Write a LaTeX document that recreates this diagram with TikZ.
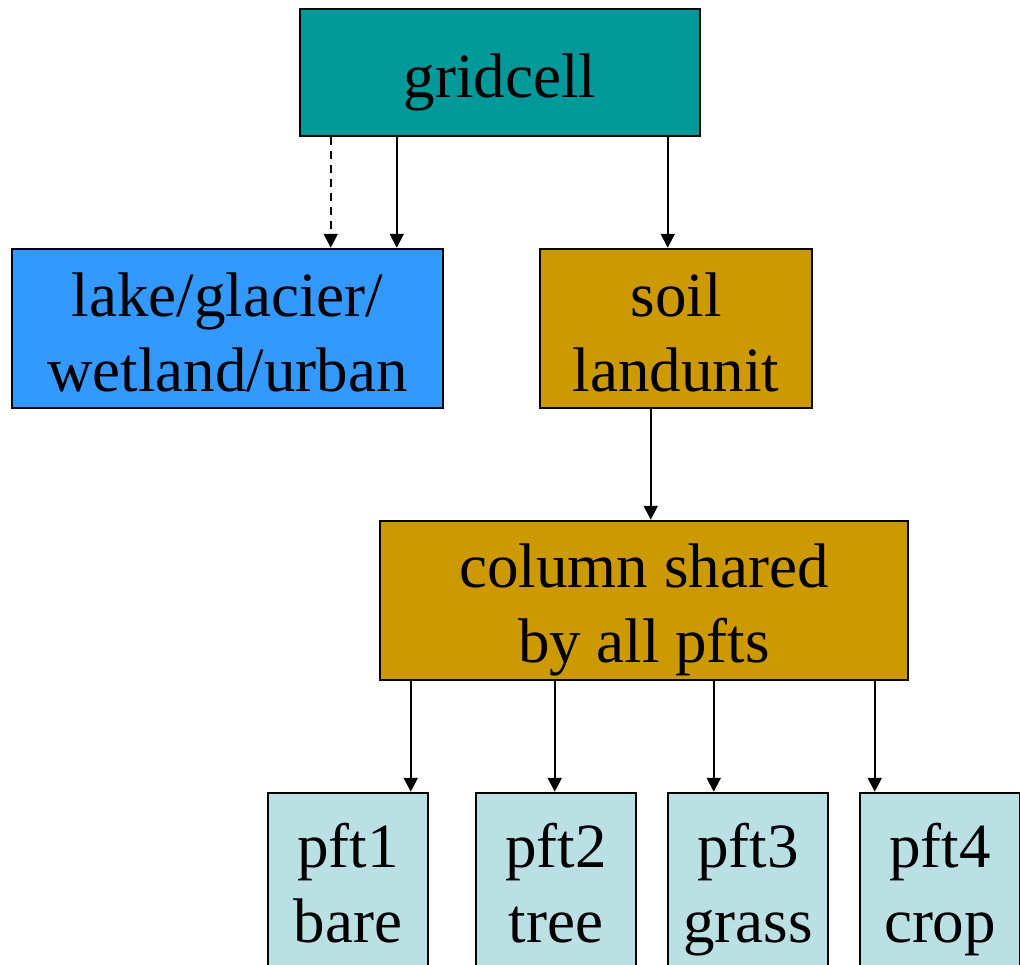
\documentclass[tikz,border=0pt]{standalone}
\usepackage{fontspec}
\setmainfont{Liberation Serif}
\usetikzlibrary{arrows.meta}
\definecolor{cteal}{HTML}{009999}
\definecolor{cblue}{HTML}{3399FF}
\definecolor{cgold}{HTML}{CC9900}
\definecolor{clight}{HTML}{BBE0E3}
\tikzset{
  box/.style={draw=black, line width=2.5pt, rectangle, inner sep=0pt},
  txt/.style={inner sep=0pt, align=center, font=\fontsize{63}{75}\selectfont},
  conn/.style={line width=2pt, -{Triangle[width=14pt,length=14pt]}},
}
\begin{document}
\begin{tikzpicture}[x=1pt,y=-1pt]
\useasboundingbox (0,0) rectangle (1020,964);
\clip (0,0) rectangle (1020,964);
\node[box, fill=cteal, minimum width=400pt, minimum height=127pt] (grid) at (500,72.5) {};
\node[box, fill=cblue, minimum width=431pt, minimum height=159pt] (lake) at (227.5,328.5) {};
\node[box, fill=cgold, minimum width=272pt, minimum height=159pt] (soil) at (676,328.5) {};
\node[box, fill=cgold, minimum width=528pt, minimum height=159pt] (col) at (644,600.5) {};
\node[box, fill=clight, minimum width=160pt, minimum height=188pt] (p1) at (348,887) {};
\node[box, fill=clight, minimum width=160pt, minimum height=188pt] (p2) at (556,887) {};
\node[box, fill=clight, minimum width=160pt, minimum height=188pt] (p3) at (748,887) {};
\node[box, fill=clight, minimum width=160pt, minimum height=188pt] (p4) at (940,887) {};
\node[txt] (gridT) at (500,82) {\strut gridcell};
\node[txt] (lakeT) at (227.5,338.5) {\strut lake/glacier/\\\strut wetland/urban};
\node[txt] (soilT) at (676,338.5) {\strut soil\\\strut landunit};
\node[txt] (colT) at (644,609.5) {\strut column shared\\\strut by all pfts};
\node[txt] (p1T) at (348,889.5) {\strut pft1\\\strut bare};
\node[txt] (p2T) at (556,889.5) {\strut pft2\\\strut tree};
\node[txt] (p3T) at (748,889.5) {\strut pft3\\\strut grass};
\node[txt] (p4T) at (940,889.5) {\strut pft4\\\strut crop};
\draw[conn, dashed, dash pattern=on 8pt off 6pt] ([xshift=32pt]grid.south west) -- ([xshift=320pt]lake.north west);
\draw[conn] ([xshift=98pt]grid.south west) -- ([xshift=386pt]lake.north west);
\draw[conn] ([xshift=369pt]grid.south west) -- ([xshift=129pt]soil.north west);
\draw[conn] ([xshift=112pt]soil.south west) -- ([xshift=272pt]col.north west);
\draw[conn] ([xshift=32pt]col.south west) -- ([xshift=144pt]p1.north west);
\draw[conn] ([xshift=176pt]col.south west) -- ([xshift=80pt]p2.north west);
\draw[conn] ([xshift=335pt]col.south west) -- ([xshift=47pt]p3.north west);
\draw[conn] ([xshift=496pt]col.south west) -- ([xshift=16pt]p4.north west);
\end{tikzpicture}
\end{document}
